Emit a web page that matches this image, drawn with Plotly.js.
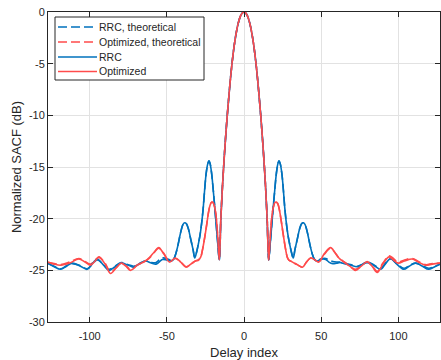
<!DOCTYPE html>
<html>
<head>
<meta charset="utf-8">
<script src="https://cdn.plot.ly/plotly-3.0.1.min.js"></script>
<style>html,body{margin:0;padding:0;background:#fff;}#chart{width:441px;height:360px;}</style>
</head>
<body>
<div id="chart"></div>
<script>
// Delay index positions for the RRC curves
var blueX = [
  -127, -123, -118.8, -115, -111.3, -106, -101.6, -98, -95.1, -91,
  -87.6, -84, -79.6, -75, -71.4, -68, -63.9, -60, -57, -55,
  -52.9, -50, -47, -45.5, -44.2, -43, -42, -41, -39.5, -38.4,
  -37.3, -36, -34.5, -33, -31.9, -30.5, -29.5, -28.5, -27.5, -26.5,
  -25.5, -24.5, -23.5, -22.7, -22, -21, -20, -19, -18, -17,
  -16, -15, -14, -13, -12, -11, -10, -9, -8, -7,
  -6, -5, -4, -3, -2, -1, 0, 1, 2, 3,
  4, 5, 6, 7, 8, 9, 10, 11, 12, 13,
  14, 15, 16, 17, 18, 19, 20, 21, 22, 22.7,
  23.5, 24.5, 25.5, 26.5, 27.5, 28.5, 29.5, 30.5, 31.9, 33,
  34.5, 36, 37.3, 38.4, 39.5, 41, 42, 43, 44.2, 45.5,
  47, 49, 51, 53, 55, 57.5, 60, 62.5, 65, 69,
  73.4, 77, 79.8, 84, 88.5, 92, 95, 99, 103.6, 107,
  111, 115, 119.7, 123, 127
];
var rrcTheory = [
  -24.35, -24.6, -24.85, -24.55, -24.35, -24.55, -24.85, -24.35, -24.0, -24.45,
  -24.9, -24.65, -24.25, -24.45, -24.6, -24.35, -24.1, -24.25, -24.25, -24.0,
  -23.8, -23.85, -24.05, -23.9, -23.4, -22.7, -22.0, -21.3, -20.55, -20.4,
  -20.5, -21.0, -22.0, -23.0, -23.75, -23.1, -22.4, -21.6, -20.5, -19.1,
  -17.2, -15.6, -14.7, -14.4, -14.65, -15.6, -17.1, -18.8, -20.6, -22.4,
  -24.0, -20.0, -17.0, -14.5, -12.3, -10.3, -8.5, -6.8, -5.3, -4.0,
  -2.9, -2.0, -1.25, -0.7, -0.3, -0.08, 0, -0.08, -0.3, -0.7,
  -1.25, -2.0, -2.9, -4.0, -5.3, -6.8, -8.5, -10.3, -12.3, -14.5,
  -17.0, -20.0, -24.0, -22.4, -20.6, -18.8, -17.1, -15.6, -14.65, -14.4,
  -14.7, -15.6, -17.2, -19.1, -20.5, -21.6, -22.4, -23.1, -23.8, -23.0,
  -22.0, -21.0, -20.5, -20.4, -20.55, -21.3, -22.0, -22.7, -23.4, -23.9,
  -24.05, -23.95, -23.85, -23.85, -24.0, -24.15, -24.2, -24.2, -24.3, -24.45,
  -24.6, -24.4, -24.2, -24.45, -24.8, -24.25, -23.9, -24.35, -24.8, -24.55,
  -24.3, -24.5, -24.8, -24.65, -24.4
];
var rrcMeasured = [
  -24.3, -24.65, -24.9, -24.6, -24.3, -24.6, -24.9, -24.3, -23.9, -24.5,
  -25.0, -24.7, -24.3, -24.5, -24.7, -24.4, -24.1, -24.3, -24.4, -24.2,
  -23.95, -24.0, -24.1, -23.9, -23.4, -22.7, -22.0, -21.3, -20.55, -20.4,
  -20.5, -21.0, -22.0, -23.0, -23.8, -23.1, -22.4, -21.6, -20.5, -19.1,
  -17.2, -15.6, -14.7, -14.4, -14.65, -15.6, -17.1, -18.8, -20.6, -22.4,
  -24.0, -20.0, -17.0, -14.5, -12.3, -10.3, -8.5, -6.8, -5.3, -4.0,
  -2.9, -2.0, -1.25, -0.7, -0.3, -0.08, 0, -0.08, -0.3, -0.7,
  -1.25, -2.0, -2.9, -4.0, -5.3, -6.8, -8.5, -10.3, -12.3, -14.5,
  -17.0, -20.0, -24.0, -22.4, -20.6, -18.8, -17.1, -15.6, -14.65, -14.4,
  -14.7, -15.6, -17.2, -19.1, -20.5, -21.6, -22.4, -23.1, -23.8, -23.0,
  -22.0, -21.0, -20.5, -20.4, -20.55, -21.3, -22.0, -22.7, -23.4, -23.9,
  -24.1, -24.0, -23.9, -23.95, -24.2, -24.35, -24.3, -24.25, -24.35, -24.5,
  -24.65, -24.4, -24.25, -24.5, -24.9, -24.3, -23.85, -24.4, -24.9, -24.6,
  -24.3, -24.55, -24.9, -24.7, -24.4
];

// Delay index positions for the optimized curves
var redX = [
  -127, -123, -118.8, -113, -107, -103, -99.5, -96.5, -94, -90,
  -86.5, -83, -79.6, -76.5, -73.6, -69, -63.9, -61.5, -58, -55.3,
  -52, -48.3, -44.5, -41, -37.5, -34.5, -31.5, -29.5, -28, -27,
  -26, -25, -24, -23, -22, -21, -20, -19, -18, -17,
  -16, -15, -14, -13, -12, -11, -10, -9, -8, -7,
  -6, -5, -4, -3, -2, -1, 0, 1, 2, 3,
  4, 5, 6, 7, 8, 9, 10, 11, 12, 13,
  14, 15, 16, 17, 18, 19, 20, 21, 22, 23,
  24, 25, 26, 27, 28, 29, 30.2, 32, 34.5, 37.8,
  40.5, 43.1, 45.5, 48.5, 52, 56.1, 59, 61.5, 64.7, 68.5,
  72.3, 76, 79.8, 83, 86.3, 90, 93.9, 96.8, 99.8, 104,
  109, 113, 117.6, 122, 127
];
var optTheory = [
  -24.25, -24.35, -24.45, -24.2, -23.85, -24.15, -24.4, -24.0, -23.75, -24.3,
  -25.2, -24.75, -24.3, -24.55, -24.9, -24.45, -24.1, -23.85, -23.25, -22.85,
  -23.35, -24.15, -23.85, -24.2, -24.65, -24.4, -24.1, -24.0, -23.7, -23.1,
  -22.3, -21.4, -20.4, -19.4, -18.7, -18.4, -18.45, -18.9, -19.9, -21.8,
  -24.0, -20.0, -17.0, -14.5, -12.3, -10.3, -8.5, -6.8, -5.3, -4.0,
  -2.9, -2.0, -1.25, -0.7, -0.3, -0.08, 0, -0.08, -0.3, -0.7,
  -1.25, -2.0, -2.9, -4.0, -5.3, -6.8, -8.5, -10.3, -12.3, -14.5,
  -17.0, -20.0, -24.0, -21.8, -19.9, -18.9, -18.45, -18.4, -18.6, -19.2,
  -20.1, -21.1, -22.1, -23.0, -23.7, -24.0, -24.1, -24.25, -24.45, -24.7,
  -24.2, -23.8, -23.95, -24.15, -23.45, -22.85, -23.3, -23.8, -24.15, -24.55,
  -24.9, -24.55, -24.15, -24.55, -25.1, -24.3, -23.6, -23.85, -24.2, -24.0,
  -23.85, -24.15, -24.45, -24.35, -24.3
];
var optMeasured = [
  -24.2, -24.4, -24.5, -24.3, -23.9, -24.2, -24.5, -24.1, -23.7, -24.4,
  -25.3, -24.8, -24.3, -24.6, -25.0, -24.5, -24.1, -23.8, -23.2, -22.8,
  -23.4, -24.2, -23.8, -24.2, -24.7, -24.4, -24.1, -24.0, -23.7, -23.1,
  -22.3, -21.4, -20.4, -19.4, -18.7, -18.4, -18.45, -18.9, -19.9, -21.8,
  -24.0, -20.0, -17.0, -14.5, -12.3, -10.3, -8.5, -6.8, -5.3, -4.0,
  -2.9, -2.0, -1.25, -0.7, -0.3, -0.08, 0, -0.08, -0.3, -0.7,
  -1.25, -2.0, -2.9, -4.0, -5.3, -6.8, -8.5, -10.3, -12.3, -14.5,
  -17.0, -20.0, -24.0, -21.8, -19.9, -18.9, -18.45, -18.4, -18.6, -19.2,
  -20.1, -21.1, -22.1, -23.0, -23.7, -24.0, -24.1, -24.25, -24.45, -24.7,
  -24.2, -23.8, -23.95, -24.2, -23.4, -22.8, -23.3, -23.8, -24.2, -24.6,
  -25.0, -24.6, -24.2, -24.6, -25.2, -24.4, -23.7, -24.0, -24.3, -24.1,
  -23.9, -24.2, -24.5, -24.4, -24.3
];

var seriesNames = ['RRC, theoretical', 'Optimized, theoretical', 'RRC', 'Optimized'];
var xTicks = [-100, -50, 0, 50, 100];
var xTickText = ['-100', '-50', '0', '50', '100'];
var yTicks = [-30, -25, -20, -15, -10, -5, 0];
var yTickText = ['-30', '-25', '-20', '-15', '-10', '-5', '0'];

var BLUE = '#0072BD', RED = '#FF4B4B';
var FONT = 'Liberation Sans, Arial, Helvetica, sans-serif';
var INK = '#262626';
var DASH = '9px,4px';

var colors = [BLUE, RED, BLUE, RED];
var dashes = [DASH, DASH, 'solid', 'solid'];
var xs = [blueX, redX, blueX, redX];
var ys = [rrcTheory, optTheory, rrcMeasured, optMeasured];

var data = seriesNames.map(function (nm, i) {
  return {x: xs[i], y: ys[i], name: nm, type: 'scatter', mode: 'lines',
    line: {color: colors[i], width: 1.6, dash: dashes[i], shape: 'spline', smoothing: 1},
    hoverinfo: 'skip', showlegend: false};
});

// Plot area in pixels: left 48, right 440, top 12, bottom 322
var PL = 48, PW = 392, PT = 12, PH = 310;
function px(v) { return (v - PL) / PW; }
function py(v) { return (PT + PH - v) / PH; }

// Legend box drawn as paper shapes / annotations
var shapes = [{type: 'rect', xref: 'paper', yref: 'paper',
  x0: px(55), x1: px(204), y0: py(80), y1: py(17),
  line: {color: INK, width: 1}, fillcolor: '#fff', layer: 'above'}];
var annotations = [];
var rowY = [27, 42, 57, 71.5];
seriesNames.forEach(function (nm, i) {
  shapes.push({type: 'line', xref: 'paper', yref: 'paper',
    x0: px(58), x1: px(97), y0: py(rowY[i]), y1: py(rowY[i]),
    line: {color: colors[i], width: 1.6, dash: dashes[i]}, layer: 'above'});
  annotations.push({xref: 'paper', yref: 'paper', x: px(97), y: py(rowY[i]),
    xanchor: 'left', yanchor: 'middle', showarrow: false, text: nm,
    font: {family: FONT, size: 10.5, color: INK}});
});

var axisCommon = {
  ticks: 'inside', ticklen: 5, tickwidth: 1, tickcolor: INK,
  showline: true, linecolor: INK, linewidth: 1, mirror: 'ticks',
  showgrid: true, gridcolor: '#e2e2e2', gridwidth: 1, zeroline: false,
  tickfont: {family: FONT, size: 11, color: INK}
};
var layout = {
  width: 441, height: 360,
  margin: {l: 48, r: 1, t: 12, b: 38},
  paper_bgcolor: '#fff', plot_bgcolor: '#fff',
  showlegend: false,
  xaxis: Object.assign({}, axisCommon, {
    range: [-127, 127], tickmode: 'array', tickvals: xTicks, ticktext: xTickText,
    ticklabelstandoff: 4,
    title: {text: 'Delay index', font: {family: FONT, size: 13, color: INK}, standoff: 6}
  }),
  yaxis: Object.assign({}, axisCommon, {
    range: [-30, 0], tickmode: 'array', tickvals: yTicks, ticktext: yTickText,
    title: {text: 'Normalized SACF (dB)', font: {family: FONT, size: 13, color: INK}, standoff: 4}
  }),
  shapes: shapes,
  annotations: annotations
};
Plotly.newPlot('chart', data, layout, {staticPlot: true, displayModeBar: false});
</script>
</body>
</html>
